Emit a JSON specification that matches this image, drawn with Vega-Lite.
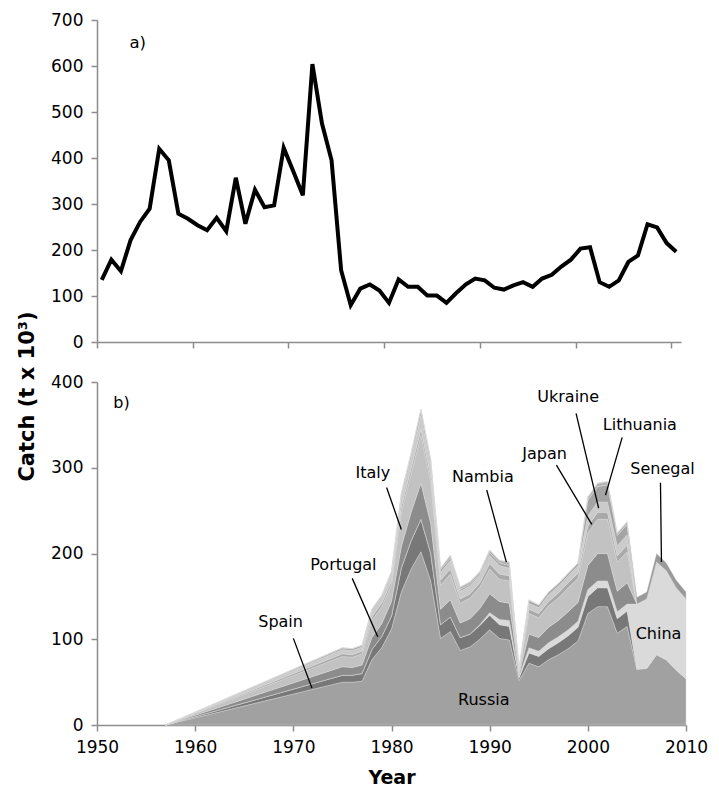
{
  "$schema": "https://vega.github.io/schema/vega-lite/v6.json",
  "padding": {"left": 16, "top": 11, "right": 5, "bottom": 5},
  "bounds": "flush",
  "spacing": 40,
  "config": {
    "font": "DejaVu Sans",
    "view": {"stroke": null},
    "axis": {
      "grid": false,
      "domainColor": "#8c8c8c",
      "tickColor": "#8c8c8c",
      "domainWidth": 1.5,
      "tickWidth": 1.5,
      "tickSize": 6,
      "labelFontSize": 17,
      "labelColor": "#000000",
      "labelFont": "DejaVu Sans",
      "labelPadding": 8,
      "labelFlush": false,
      "titleFont": "DejaVu Sans",
      "titleFontSize": 19,
      "titleFontWeight": "bold",
      "titleColor": "#000000"
    }
  },
  "datasets": {
    "total": [
      {"year": 1950, "catch": 135}, {"year": 1951, "catch": 179}, {"year": 1952, "catch": 154}, {"year": 1953, "catch": 221},
      {"year": 1954, "catch": 261}, {"year": 1955, "catch": 290}, {"year": 1956, "catch": 420}, {"year": 1957, "catch": 395},
      {"year": 1958, "catch": 279}, {"year": 1959, "catch": 268}, {"year": 1960, "catch": 254}, {"year": 1961, "catch": 243},
      {"year": 1962, "catch": 270}, {"year": 1963, "catch": 241}, {"year": 1964, "catch": 357}, {"year": 1965, "catch": 257},
      {"year": 1966, "catch": 331}, {"year": 1967, "catch": 293}, {"year": 1968, "catch": 297}, {"year": 1969, "catch": 422},
      {"year": 1970, "catch": 371}, {"year": 1971, "catch": 319}, {"year": 1972, "catch": 604}, {"year": 1973, "catch": 475},
      {"year": 1974, "catch": 395}, {"year": 1975, "catch": 156}, {"year": 1976, "catch": 80}, {"year": 1977, "catch": 116},
      {"year": 1978, "catch": 125}, {"year": 1979, "catch": 112}, {"year": 1980, "catch": 85}, {"year": 1981, "catch": 136},
      {"year": 1982, "catch": 120}, {"year": 1983, "catch": 120}, {"year": 1984, "catch": 101}, {"year": 1985, "catch": 101},
      {"year": 1986, "catch": 85}, {"year": 1987, "catch": 106}, {"year": 1988, "catch": 125}, {"year": 1989, "catch": 138},
      {"year": 1990, "catch": 134}, {"year": 1991, "catch": 118}, {"year": 1992, "catch": 114}, {"year": 1993, "catch": 123},
      {"year": 1994, "catch": 130}, {"year": 1995, "catch": 120}, {"year": 1996, "catch": 138}, {"year": 1997, "catch": 146},
      {"year": 1998, "catch": 164}, {"year": 1999, "catch": 179}, {"year": 2000, "catch": 203}, {"year": 2001, "catch": 206},
      {"year": 2002, "catch": 130}, {"year": 2003, "catch": 120}, {"year": 2004, "catch": 134}, {"year": 2005, "catch": 174},
      {"year": 2006, "catch": 188}, {"year": 2007, "catch": 256}, {"year": 2008, "catch": 249}, {"year": 2009, "catch": 215},
      {"year": 2010, "catch": 196}
    ],
    "layers": [
      {"c": "Russia", "k": 1}, {"c": "Spain", "k": 2}, {"c": "China", "k": 3}, {"c": "Portugal", "k": 4},
      {"c": "Italy", "k": 5}, {"c": "Japan", "k": 6}, {"c": "Ukraine", "k": 7}, {"c": "Lithuania", "k": 8},
      {"c": "Nambia", "k": 9}, {"c": "Senegal", "k": 10}
    ],
    "country": [
      {"year": 1957, "Russia": 0, "Spain": 0, "China": 0, "Portugal": 0, "Italy": 0, "Japan": 0, "Ukraine": 0, "Lithuania": 0, "Nambia": 0, "Senegal": 0},
      {"year": 1975, "Russia": 50, "Spain": 8, "China": 0, "Portugal": 10, "Italy": 12, "Japan": 3, "Ukraine": 5, "Lithuania": 2, "Nambia": 0, "Senegal": 0},
      {"year": 1976, "Russia": 50, "Spain": 8, "China": 0, "Portugal": 9, "Italy": 12, "Japan": 3, "Ukraine": 5, "Lithuania": 2, "Nambia": 0, "Senegal": 0},
      {"year": 1977, "Russia": 51, "Spain": 9, "China": 0, "Portugal": 10, "Italy": 13, "Japan": 3, "Ukraine": 5, "Lithuania": 2, "Nambia": 0, "Senegal": 0},
      {"year": 1978, "Russia": 76, "Spain": 12, "China": 0, "Portugal": 14, "Italy": 20, "Japan": 4, "Ukraine": 7, "Lithuania": 2, "Nambia": 0, "Senegal": 0},
      {"year": 1979, "Russia": 90, "Spain": 13, "China": 0, "Portugal": 15, "Italy": 20, "Japan": 4, "Ukraine": 7, "Lithuania": 2, "Nambia": 0, "Senegal": 0},
      {"year": 1980, "Russia": 112, "Spain": 15, "China": 0, "Portugal": 17, "Italy": 20, "Japan": 4, "Ukraine": 8, "Lithuania": 3, "Nambia": 0, "Senegal": 0},
      {"year": 1981, "Russia": 155, "Spain": 28, "China": 0, "Portugal": 25, "Italy": 40, "Japan": 6, "Ukraine": 12, "Lithuania": 4, "Nambia": 0, "Senegal": 0},
      {"year": 1982, "Russia": 182, "Spain": 33, "China": 0, "Portugal": 33, "Italy": 45, "Japan": 6, "Ukraine": 13, "Lithuania": 5, "Nambia": 0, "Senegal": 0},
      {"year": 1983, "Russia": 202, "Spain": 38, "China": 0, "Portugal": 42, "Italy": 56, "Japan": 7, "Ukraine": 16, "Lithuania": 7, "Nambia": 0, "Senegal": 0},
      {"year": 1984, "Russia": 168, "Spain": 32, "China": 0, "Portugal": 35, "Italy": 48, "Japan": 6, "Ukraine": 14, "Lithuania": 6, "Nambia": 0, "Senegal": 0},
      {"year": 1985, "Russia": 101, "Spain": 16, "China": 0, "Portugal": 18, "Italy": 28, "Japan": 6, "Ukraine": 9, "Lithuania": 3, "Nambia": 2, "Senegal": 0},
      {"year": 1986, "Russia": 109, "Spain": 17, "China": 0, "Portugal": 20, "Italy": 30, "Japan": 6, "Ukraine": 10, "Lithuania": 3, "Nambia": 3, "Senegal": 0},
      {"year": 1987, "Russia": 87, "Spain": 15, "China": 0, "Portugal": 17, "Italy": 23, "Japan": 5, "Ukraine": 9, "Lithuania": 2, "Nambia": 3, "Senegal": 0},
      {"year": 1988, "Russia": 91, "Spain": 15, "China": 0, "Portugal": 18, "Italy": 24, "Japan": 5, "Ukraine": 9, "Lithuania": 2, "Nambia": 3, "Senegal": 0},
      {"year": 1989, "Russia": 100, "Spain": 16, "China": 1, "Portugal": 19, "Italy": 25, "Japan": 5, "Ukraine": 9, "Lithuania": 2, "Nambia": 2, "Senegal": 0},
      {"year": 1990, "Russia": 111, "Spain": 17, "China": 3, "Portugal": 22, "Italy": 29, "Japan": 6, "Ukraine": 10, "Lithuania": 3, "Nambia": 3, "Senegal": 0},
      {"year": 1991, "Russia": 101, "Spain": 16, "China": 6, "Portugal": 21, "Italy": 26, "Japan": 6, "Ukraine": 10, "Lithuania": 3, "Nambia": 3, "Senegal": 0},
      {"year": 1992, "Russia": 99, "Spain": 16, "China": 7, "Portugal": 20, "Italy": 26, "Japan": 6, "Ukraine": 9, "Lithuania": 3, "Nambia": 4, "Senegal": 0},
      {"year": 1993, "Russia": 52, "Spain": 3, "China": 2, "Portugal": 2, "Italy": 3, "Japan": 1, "Ukraine": 2, "Lithuania": 1, "Nambia": 0, "Senegal": 0},
      {"year": 1994, "Russia": 72, "Spain": 12, "China": 6, "Portugal": 16, "Italy": 24, "Japan": 5, "Ukraine": 7, "Lithuania": 3, "Nambia": 1, "Senegal": 0},
      {"year": 1995, "Russia": 68, "Spain": 12, "China": 6, "Portugal": 16, "Italy": 23, "Japan": 5, "Ukraine": 7, "Lithuania": 3, "Nambia": 0, "Senegal": 0},
      {"year": 1996, "Russia": 76, "Spain": 13, "China": 7, "Portugal": 18, "Italy": 25, "Japan": 5, "Ukraine": 8, "Lithuania": 3, "Nambia": 0, "Senegal": 0},
      {"year": 1997, "Russia": 82, "Spain": 14, "China": 7, "Portugal": 19, "Italy": 26, "Japan": 6, "Ukraine": 8, "Lithuania": 3, "Nambia": 0, "Senegal": 0},
      {"year": 1998, "Russia": 89, "Spain": 15, "China": 7, "Portugal": 21, "Italy": 28, "Japan": 6, "Ukraine": 8, "Lithuania": 3, "Nambia": 0, "Senegal": 0},
      {"year": 1999, "Russia": 98, "Spain": 16, "China": 7, "Portugal": 22, "Italy": 28, "Japan": 6, "Ukraine": 9, "Lithuania": 3, "Nambia": 0, "Senegal": 0},
      {"year": 2000, "Russia": 130, "Spain": 20, "China": 8, "Portugal": 28, "Italy": 38, "Japan": 8, "Ukraine": 12, "Lithuania": 18, "Nambia": 4, "Senegal": 0},
      {"year": 2001, "Russia": 138, "Spain": 22, "China": 8, "Portugal": 32, "Italy": 40, "Japan": 8, "Ukraine": 12, "Lithuania": 18, "Nambia": 4, "Senegal": 0},
      {"year": 2002, "Russia": 138, "Spain": 22, "China": 8, "Portugal": 32, "Italy": 40, "Japan": 8, "Ukraine": 12, "Lithuania": 20, "Nambia": 4, "Senegal": 0},
      {"year": 2003, "Russia": 107, "Spain": 17, "China": 8, "Portugal": 24, "Italy": 34, "Japan": 7, "Ukraine": 12, "Lithuania": 12, "Nambia": 3, "Senegal": 0},
      {"year": 2004, "Russia": 115, "Spain": 18, "China": 8, "Portugal": 25, "Italy": 36, "Japan": 8, "Ukraine": 12, "Lithuania": 12, "Nambia": 3, "Senegal": 0},
      {"year": 2005, "Russia": 65, "Spain": 0, "China": 76, "Portugal": 0, "Italy": 0, "Japan": 0, "Ukraine": 0, "Lithuania": 0, "Nambia": 0, "Senegal": 8},
      {"year": 2006, "Russia": 66, "Spain": 0, "China": 81, "Portugal": 0, "Italy": 0, "Japan": 0, "Ukraine": 0, "Lithuania": 0, "Nambia": 0, "Senegal": 8},
      {"year": 2007, "Russia": 82, "Spain": 0, "China": 108, "Portugal": 0, "Italy": 0, "Japan": 0, "Ukraine": 0, "Lithuania": 0, "Nambia": 0, "Senegal": 10},
      {"year": 2008, "Russia": 76, "Spain": 0, "China": 104, "Portugal": 0, "Italy": 0, "Japan": 0, "Ukraine": 0, "Lithuania": 0, "Nambia": 0, "Senegal": 9},
      {"year": 2009, "Russia": 64, "Spain": 0, "China": 96, "Portugal": 0, "Italy": 0, "Japan": 0, "Ukraine": 0, "Lithuania": 0, "Nambia": 0, "Senegal": 9},
      {"year": 2010, "Russia": 54, "Spain": 0, "China": 93, "Portugal": 0, "Italy": 0, "Japan": 0, "Ukraine": 0, "Lithuania": 0, "Nambia": 0, "Senegal": 8}
    ],
    "labels": [
      {"t": "Spain", "lx": 1968.7, "ly": 120.5},
      {"t": "Portugal", "lx": 1975.1, "ly": 186.6},
      {"t": "Italy", "lx": 1978.1, "ly": 293.5},
      {"t": "Nambia", "lx": 1989.3, "ly": 289.7},
      {"t": "Japan", "lx": 1995.6, "ly": 316},
      {"t": "Ukraine", "lx": 1998.0, "ly": 382},
      {"t": "Lithuania", "lx": 2005.3, "ly": 350},
      {"t": "Senegal", "lx": 2007.6, "ly": 298.8},
      {"t": "China", "lx": 2007.2, "ly": 106},
      {"t": "Russia", "lx": 1989.4, "ly": 29},
      {"t": "b)", "lx": 1952.5, "ly": 376}
    ],
    "pointers": [
      {"px": 1970.0, "py": 101, "px2": 1971.9, "py2": 43},
      {"px": 1976.0, "py": 171, "px2": 1978.6, "py2": 103},
      {"px": 1979.5, "py": 277, "px2": 1981.0, "py2": 228},
      {"px": 1989.7, "py": 274, "px2": 1991.7, "py2": 190},
      {"px": 1996.8, "py": 303, "px2": 2000.4, "py2": 234},
      {"px": 1998.8, "py": 363.5, "px2": 2001.1, "py2": 253},
      {"px": 2003.5, "py": 335.5, "px2": 2001.8, "py2": 268},
      {"px": 2007.4, "py": 282.6, "px2": 2007.5, "py2": 190}
    ],
    "panelA": [
      {"t": "a)", "lx": 1953.75, "ly": 650}
    ]
  },
  "vconcat": [
    {
      "width": 584,
      "height": 322,
      "layer": [
        {
          "data": {"name": "total"},
          "mark": {"type": "line", "color": "#000000", "strokeWidth": 4, "strokeJoin": "miter"},
          "encoding": {
            "x": {"field": "year", "type": "quantitative",
                  "scale": {"domain": [1949.5, 2010.5], "nice": false, "zero": false},
                  "axis": {"values": [1949.5, 1959.5, 1969.5, 1979.5, 1989.5, 1999.5, 2009.5], "labels": false, "title": null}},
            "y": {"field": "catch", "type": "quantitative",
                  "scale": {"domain": [0, 700], "nice": false},
                  "axis": {"values": [0, 100, 200, 300, 400, 500, 600, 700], "title": null}}
          }
        },
        {
          "data": {"name": "panelA"},
          "mark": {"type": "text", "fontSize": 16.5, "align": "center", "baseline": "middle", "color": "#000000"},
          "encoding": {
            "x": {"field": "lx", "type": "quantitative", "scale": {"domain": [1949.5, 2010.5], "nice": false, "zero": false},
                  "axis": {"values": [1949.5, 1959.5, 1969.5, 1979.5, 1989.5, 1999.5, 2009.5], "labels": false, "title": null}},
            "y": {"field": "ly", "type": "quantitative", "scale": {"domain": [0, 700], "nice": false},
                  "axis": {"values": [0, 100, 200, 300, 400, 500, 600, 700], "title": null}},
            "text": {"field": "t"}
          }
        }
      ]
    },
    {
      "width": 589,
      "height": 343,
      "layer": [
        {
          "data": {"name": "country"},
          "transform": [
            {"fold": ["Russia", "Spain", "China", "Portugal", "Italy", "Japan", "Ukraine", "Lithuania", "Nambia", "Senegal"], "as": ["c", "v"]},
            {"lookup": "c", "from": {"data": {"name": "layers"}, "key": "c", "fields": ["k"]}}
          ],
          "mark": {"type": "area", "interpolate": "linear", "stroke": "#dcdcdc", "strokeWidth": 0.4},
          "encoding": {
            "x": {"field": "year", "type": "quantitative",
                  "scale": {"domain": [1950, 2010], "nice": false, "zero": false},
                  "axis": {"values": [1950, 1960, 1970, 1980, 1990, 2000, 2010], "format": "d", "title": "Year", "titlePadding": 13}},
            "y": {"field": "v", "type": "quantitative", "stack": "zero",
                  "scale": {"domain": [0, 400], "nice": false},
                  "axis": {"values": [0, 100, 200, 300, 400], "title": "Catch (t x 10³)", "titleFontSize": 21, "titleY": 14, "titlePadding": 13}},
            "color": {"field": "c", "type": "nominal", "legend": null,
                      "scale": {"domain": ["Russia", "Spain", "China", "Portugal", "Italy", "Japan", "Ukraine", "Lithuania", "Nambia", "Senegal"],
                                "range": ["#a1a1a1", "#787878", "#dadada", "#8c8c8c", "#c2c2c2", "#a9a9a9", "#cbcbcb", "#a4a4a4", "#b5b5b5", "#999999"]}},
            "order": {"field": "k", "type": "quantitative", "sort": "ascending"}
          }
        },
        {
          "data": {"name": "pointers"},
          "mark": {"type": "rule", "color": "#000000", "strokeWidth": 1.3},
          "encoding": {
            "x": {"field": "px", "type": "quantitative", "scale": {"domain": [1950, 2010], "nice": false, "zero": false},
                  "axis": {"values": [1950, 1960, 1970, 1980, 1990, 2000, 2010], "format": "d", "title": "Year", "titlePadding": 13}},
            "y": {"field": "py", "type": "quantitative", "scale": {"domain": [0, 400], "nice": false},
                  "axis": {"values": [0, 100, 200, 300, 400], "title": "Catch (t x 10³)", "titleFontSize": 21, "titleY": 14, "titlePadding": 13}},
            "x2": {"field": "px2"},
            "y2": {"field": "py2"}
          }
        },
        {
          "data": {"name": "labels"},
          "mark": {"type": "text", "fontSize": 16, "align": "center", "baseline": "middle", "color": "#000000"},
          "encoding": {
            "x": {"field": "lx", "type": "quantitative", "scale": {"domain": [1950, 2010], "nice": false, "zero": false},
                  "axis": {"values": [1950, 1960, 1970, 1980, 1990, 2000, 2010], "format": "d", "title": "Year", "titlePadding": 13}},
            "y": {"field": "ly", "type": "quantitative", "scale": {"domain": [0, 400], "nice": false},
                  "axis": {"values": [0, 100, 200, 300, 400], "title": "Catch (t x 10³)", "titleFontSize": 21, "titleY": 14, "titlePadding": 13}},
            "text": {"field": "t"}
          }
        }
      ]
    }
  ]
}
